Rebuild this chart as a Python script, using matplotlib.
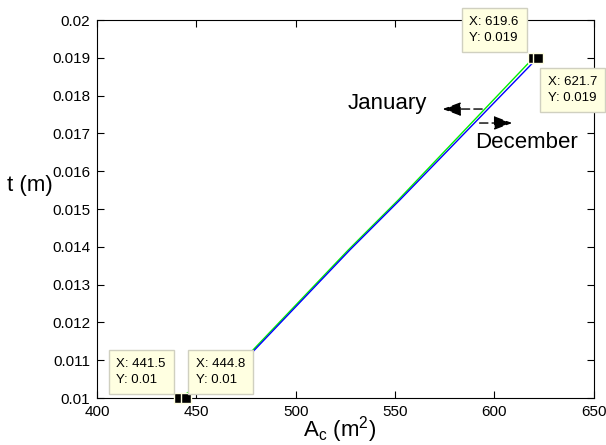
import matplotlib
matplotlib.use("Agg")
import matplotlib.pyplot as plt

plt.rcParams['font.family'] = ['Liberation Sans', 'DejaVu Sans']
plt.rcParams['mathtext.fontset'] = 'custom'
plt.rcParams['mathtext.rm'] = 'Liberation Sans'

# curves
jan_area = [444.8, 478.0, 527.3, 552.4, 621.7]
jan_t = [0.010, 0.0112, 0.01392, 0.01524, 0.019]
dec_area = [441.5, 477.2, 526.5, 551.6, 619.6]
dec_t = [0.010, 0.0112, 0.01392, 0.01524, 0.019]

# data tips: (x, y, offset in pixels)
tips = [(619.6, 0.019, (-64, 14)),
        (621.7, 0.019, (10, -46)),
        (441.5, 0.01, (-63, 12)),
        (444.8, 0.01, (10, 12))]

x_ticks = [400, 450, 500, 550, 600, 650]
y_ticks = [0.01, 0.011, 0.012, 0.013, 0.014, 0.015, 0.016, 0.017, 0.018, 0.019, 0.02]
y_labels = ['0.01', '0.011', '0.012', '0.013', '0.014', '0.015', '0.016',
            '0.017', '0.018', '0.019', '0.02']

fig = plt.figure(figsize=(6.06, 4.45), dpi=100)
ax = fig.add_axes([0.160, 0.1056, 0.820, 0.8494])

# plot both months
ax.plot(dec_area, dec_t, color='#00ee00', lw=1)
ax.plot(jan_area, jan_t, color='#0000ff', lw=1)

ax.set_xlim(400, 650)
ax.set_ylim(0.01, 0.02)
ax.set_xticks(x_ticks)
ax.set_xticklabels([str(v) for v in x_ticks])
ax.set_yticks(y_ticks)
ax.set_yticklabels(y_labels)
ax.tick_params(direction='in', length=5, labelsize=11, top=True, right=True, pad=5)

# data tip markers and boxes
for x, y, off in tips:
    ax.plot([x], [y], marker='s', ms=7, color='black', mec='#ffffe1', mew=1,
            clip_on=False, zorder=5)
    ax.annotate(f"X: {x}\nY: {y:g}", xy=(x, y), xytext=off, textcoords='offset pixels',
                ha='left', va='bottom', fontsize=9.5, linespacing=1.45,
                bbox=dict(boxstyle='square,pad=0.6', fc='#ffffe1', ec='#d0d0c0', lw=1),
                annotation_clip=False, zorder=6)

# month labels with arrows
ax.text(526.3, 0.0178, 'January', fontsize=16, va='center', ha='left')
ax.text(590.1, 0.01675, 'December', fontsize=16, va='center', ha='left')
arrow = dict(arrowstyle='-|>,head_length=0.8,head_width=0.3', color='black',
             lw=1, linestyle=(0, (6, 3)), mutation_scale=14)
ax.annotate('', xy=(572.5, 0.017645), xytext=(595.2, 0.017645), arrowprops=arrow)
ax.annotate('', xy=(610.3, 0.017275), xytext=(591.1, 0.017275), arrowprops=arrow)

# axis labels
fig.text(30 / 606, 1 - 186 / 445, 't (m)', fontsize=16, ha='center', va='center')
fig.text(340 / 606, 1 - 430 / 445, r'A$_\mathregular{c}$ (m$^\mathregular{2}$)',
         fontsize=16, ha='center', va='center')

fig.savefig('out.png', dpi=100)
